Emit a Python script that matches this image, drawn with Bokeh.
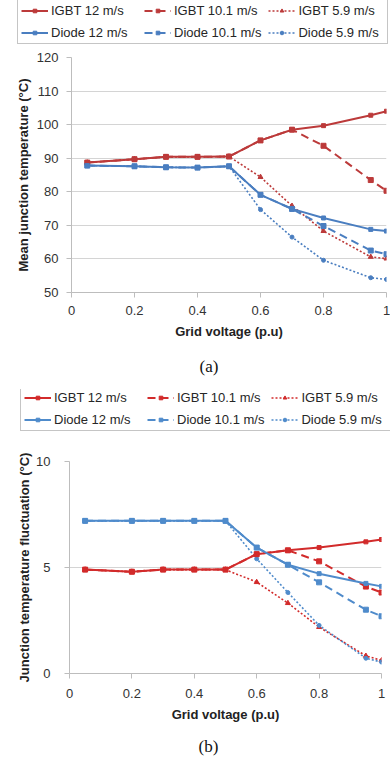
from bokeh.plotting import figure
from bokeh.models import Range1d, Legend, LegendItem, Title, FixedTicker
from bokeh.layouts import column
from bokeh.embed import file_html
from bokeh.resources import INLINE

# ---------------- data ----------------
grid_voltage = [0.05, 0.2, 0.3, 0.4, 0.5, 0.6, 0.7, 0.8, 0.95, 1.0]

# (a) mean junction temperature (°C)
a_igbt_12 = [88.7, 89.7, 90.4, 90.4, 90.5, 95.3, 98.5, 99.7, 102.8, 104.0]
a_igbt_101 = [88.7, 89.7, 90.4, 90.4, 90.5, 95.3, 98.5, 93.7, 83.5, 80.3]
a_igbt_59 = [88.7, 89.7, 90.4, 90.4, 90.5, 84.4, 75.8, 68.3, 60.6, 60.1]
a_diode_12 = [87.8, 87.6, 87.3, 87.2, 87.6, 79.1, 74.9, 72.2, 68.8, 68.3]
a_diode_101 = [87.8, 87.6, 87.3, 87.2, 87.6, 79.1, 74.9, 69.8, 62.5, 61.4]
a_diode_59 = [87.8, 87.6, 87.3, 87.2, 87.6, 74.7, 66.5, 59.6, 54.4, 53.9]

# (b) junction temperature fluctuation (°C)
b_igbt_12 = [4.9, 4.8, 4.9, 4.9, 4.9, 5.63, 5.81, 5.94, 6.21, 6.32]
b_igbt_101 = [4.9, 4.8, 4.9, 4.9, 4.9, 5.63, 5.81, 5.29, 4.10, 3.82]
b_igbt_59 = [4.9, 4.8, 4.9, 4.9, 4.9, 4.31, 3.32, 2.19, 0.83, 0.62]
b_diode_12 = [7.2, 7.2, 7.2, 7.2, 7.2, 5.94, 5.13, 4.71, 4.25, 4.11]
b_diode_101 = [7.2, 7.2, 7.2, 7.2, 7.2, 5.94, 5.13, 4.30, 3.01, 2.70]
b_diode_59 = [7.2, 7.2, 7.2, 7.2, 7.2, 5.41, 3.82, 2.27, 0.72, 0.54]

series_labels = ["IGBT 12 m/s", "IGBT 10.1 m/s", "IGBT 5.9 m/s",
                 "Diode 12 m/s", "Diode 10.1 m/s", "Diode 5.9 m/s"]
x_ticks = [0, 0.2, 0.4, 0.6, 0.8, 1]
a_y_ticks = [50, 60, 70, 80, 90, 100, 110, 120]
b_y_ticks = [0, 5, 10]

FONT = "Liberation Sans"


def series_styles(red, blue):
    return [
        (red, "solid", 2.0, "square", 4),
        (red, "8 5", 2.0, "square", 5),
        (red, "2 2", 1.6, "triangle", 5),
        (blue, "solid", 2.0, "square", 4),
        (blue, "8 5", 2.0, "square", 5),
        (blue, "2 2", 1.6, "circle", 4),
    ]


def make_legend_fig(series, red, blue, height, loc):
    # a strip holding only the legend; its y range keeps the series out of view
    lf = figure(width=390, height=height, output_backend="svg",
                toolbar_location=None, x_axis_location=None,
                y_axis_location=None, x_range=Range1d(0, 1),
                y_range=Range1d(-30, -29), min_border=0, frame_align=False)
    lf.outline_line_color = None
    lf.xgrid.grid_line_color = None
    lf.ygrid.grid_line_color = None
    items = []
    for i, (col, dash, lw, mk, ms) in enumerate(series_styles(red, blue)):
        r1 = lf.line(grid_voltage, series[i], line_color=col, line_width=lw,
                     line_dash=dash)
        r2 = lf.scatter(grid_voltage, series[i], marker=mk, size=ms,
                        fill_color=col, line_color=col)
        items.append(LegendItem(label=series_labels[i], renderers=[r1, r2]))
    leg = Legend(items=items, orientation="horizontal", ncols=3, location=loc)
    leg.label_text_font = FONT
    leg.label_text_font_size = "13px"
    leg.label_text_color = "#262626"
    leg.glyph_width = 27
    leg.glyph_height = 9
    leg.label_height = 15
    leg.label_width = 86
    leg.label_standoff = 3
    leg.spacing = 7
    leg.padding = 3
    leg.margin = 0
    leg.border_line_color = "#8C8C8C"
    leg.border_line_width = 1
    leg.background_fill_color = "white"
    leg.background_fill_alpha = 1
    lf.add_layout(leg, "center")
    return lf


def make_chart(series, red, blue, y_range, y_ticks, y_label, caption,
               height, border_left, border_right, border_top,
               border_bottom, cap_offset, cap_standoff, ylab_standoff,
               yaxis_label_standoff, xlab_standoff):
    p = figure(width=390, height=height, output_backend="svg",
               toolbar_location=None, x_range=Range1d(0, 1),
               y_range=Range1d(*y_range), frame_align=False,
               min_border_left=border_left, min_border_right=border_right,
               min_border_top=border_top, min_border_bottom=border_bottom)
    p.outline_line_color = None
    p.background_fill_color = "white"
    p.border_fill_color = "white"
    p.xgrid.grid_line_color = None
    p.ygrid.grid_line_color = "#D4D4D4"
    p.ygrid.grid_line_width = 1

    p.xaxis.ticker = FixedTicker(ticks=x_ticks)
    p.yaxis.ticker = FixedTicker(ticks=y_ticks)
    for ax in (p.xaxis[0], p.yaxis[0]):
        ax.axis_line_color = "#BDBDBD"
        ax.major_tick_line_color = "#BDBDBD"
        ax.major_tick_out = 5
        ax.major_tick_in = 0
        ax.minor_tick_line_color = None
        ax.major_label_text_font = FONT
        ax.major_label_text_font_size = "13px"
        ax.major_label_text_color = "#333333"
        ax.axis_label_text_font = FONT
        ax.axis_label_text_font_size = "13px"
        ax.axis_label_text_font_style = "bold"
        ax.axis_label_text_color = "#222222"
    p.xaxis.major_label_standoff = xlab_standoff
    p.yaxis.major_label_standoff = ylab_standoff
    p.xaxis.axis_label = "Grid voltage (p.u)"
    p.xaxis.axis_label_standoff = 6
    p.yaxis.axis_label = y_label
    p.yaxis.axis_label_standoff = yaxis_label_standoff

    styles = series_styles(red, blue)
    # slower series first so the 12 m/s lines sit on top
    for i in [2, 5, 1, 4, 0, 3]:
        col, dash, lw, mk, ms = styles[i]
        p.line(grid_voltage, series[i], line_color=col, line_width=lw,
               line_dash=dash)
        p.scatter(grid_voltage, series[i], marker=mk, size=ms,
                  fill_color=col, line_color=col)

    t = Title(text=caption, align="left", offset=cap_offset,
              text_font="Liberation Serif", text_font_size="17px",
              text_font_style="normal", text_color="#111111",
              standoff=cap_standoff)
    p.add_layout(t, "below")
    return p


RED_A, BLUE_A = "#BC3A3A", "#4A7EC0"
RED_B, BLUE_B = "#D22B2B", "#4F8BCB"

series_a = [a_igbt_12, a_igbt_101, a_igbt_59, a_diode_12, a_diode_101,
            a_diode_59]
series_b = [b_igbt_12, b_igbt_101, b_igbt_59, b_diode_12, b_diode_101,
            b_diode_59]

leg_a = make_legend_fig(series_a, RED_A, BLUE_A, 45, (17, 1))
pa = make_chart(series_a, RED_A, BLUE_A, (50, 120), a_y_ticks,
                "Mean junction temperature (°C)", "(a)",
                344, 71, 4, 12, 95, 128, 27, 8, 3, 8)

leg_b = make_legend_fig(series_b, RED_B, BLUE_B, 42, (20, 0))
pb = make_chart(series_b, RED_B, BLUE_B, (0, 10), b_y_ticks,
                "Junction temperature fluctuation (°C)", "(b)",
                334, 69, 9, 30, 92, 129, 20, 14, 1, 10)

layout = column(leg_a, pa, leg_b, pb, spacing=0)
open("out.html", "w").write(file_html(layout, INLINE))
